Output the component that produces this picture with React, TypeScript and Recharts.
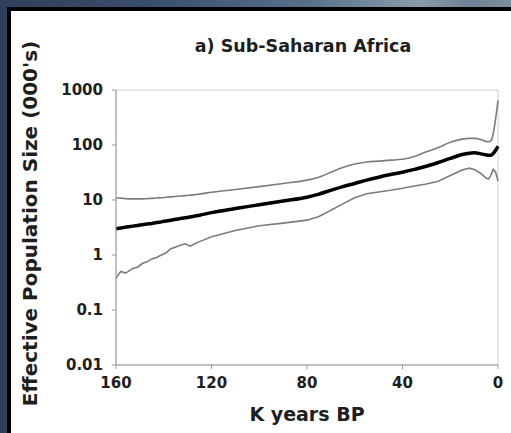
import { LineChart, Line, XAxis, YAxis, ReferenceArea, Label } from "recharts";

// thousands of years before present (shared x grid)
const kyr = [
  160, 158, 156, 155, 153, 151, 149, 147, 145, 143, 141, 139, 137, 135, 133, 131, 129, 127, 125, 120,
  110, 100, 90, 80, 75, 70, 65, 60, 55, 50, 45, 40, 35, 30, 25, 20, 15, 12, 10, 7, 5, 4, 3, 2, 1, 0,
];

// effective population size (000's): median estimate and bounds
const median = [
  3.0, 3.1, 3.2, 3.25, 3.35, 3.45, 3.55, 3.65, 3.75, 3.9, 4.0, 4.15, 4.3, 4.45, 4.6, 4.75, 4.9, 5.1, 5.3, 5.9,
  7.0, 8.2, 9.6, 11.2, 12.8, 15, 17.5, 20, 23, 26, 29, 32, 36, 41, 48, 57, 67, 71, 72, 69, 66, 65, 65, 70, 80, 95,
];
const upper = [
  11, 10.8, 10.6, 10.5, 10.5, 10.5, 10.5, 10.6, 10.7, 10.9, 11, 11.2, 11.4, 11.6, 11.8, 12, 12.2, 12.5, 12.8, 13.8,
  15.5, 17.5, 20, 23, 26, 32, 39, 45, 49, 51, 53, 55, 62, 75, 90, 112, 128, 132, 132, 125, 116, 115, 118, 160, 300, 650,
];
const lower = [
  0.38, 0.5, 0.47, 0.5, 0.57, 0.6, 0.7, 0.75, 0.85, 0.9, 1.0, 1.1, 1.3, 1.4, 1.5, 1.6, 1.45, 1.6, 1.75, 2.15,
  2.8, 3.4, 3.8, 4.3, 5.0, 6.5, 8.5, 11, 13, 14, 15, 16.3, 18, 19.5, 22, 28, 35, 38, 36, 30, 25, 24, 28, 36, 32, 22,
];

const xTicks = [160, 120, 80, 40, 0];
const yTicks = [0.01, 0.1, 1, 10, 100, 1000];

const data = kyr.map((k, i) => ({ k, median: median[i], upper: upper[i], lower: lower[i] }));

const FONT = "'DejaVu Sans', Verdana, sans-serif";
const tickStyle = { fontSize: 15, fontWeight: 700, fill: "#1e1e1e", fontFamily: FONT };

export default function App() {
  return (
    <div
      style={{
        position: "fixed",
        left: 0,
        top: 0,
        width: 511,
        height: 433,
        overflow: "hidden",
        backgroundColor: "#2d3f5b",
        backgroundImage:
          "linear-gradient(90deg, #2e405c 0%, #3a4f6c 30%, #56708a 60%, #8a9ca9 82%, #6d8295 92%, #7d8f9e 100%)",
        backgroundSize: "100% 8px",
        backgroundRepeat: "no-repeat",
      }}
    >
      <div
        style={{
          position: "absolute",
          left: 7,
          top: 7,
          right: 0,
          bottom: 0,
          background: "#fff",
          borderTop: "4px solid #000",
          borderLeft: "4px solid #000",
        }}
      />
      <div
        style={{
          position: "absolute",
          left: 0,
          width: 606,
          top: 36,
          textAlign: "center",
          fontFamily: FONT,
          fontWeight: 700,
          fontSize: 17.5,
          color: "#1e1e1e",
        }}
      >
        a) Sub-Saharan Africa
      </div>
      <LineChart
        width={511}
        height={433}
        data={data}
        margin={{ top: 90, right: 13, bottom: 0, left: 0 }}
        style={{ position: "absolute", left: 0, top: 0 }}
      >
        <ReferenceArea x1={160} x2={0} y1={0.01} y2={1000} fill="none" stroke="#cfcfcf" strokeWidth={1} />
        <XAxis
          dataKey="k"
          type="number"
          domain={[0, 160]}
          ticks={xTicks}
          reversed
          height={68}
          stroke="#9a9a9a"
          tickSize={4}
          tickMargin={8}
          tick={tickStyle}
        >
          <Label
            value="K years BP"
            position="insideBottom"
            offset={12}
            style={{ fontSize: 19, fontWeight: 700, fill: "#1e1e1e", fontFamily: FONT }}
          />
        </XAxis>
        <YAxis
          scale="log"
          domain={[0.01, 1000]}
          ticks={yTicks}
          width={116}
          stroke="#9a9a9a"
          tickSize={4}
          tickMargin={9}
          tick={tickStyle}
          allowDataOverflow
        >
          <Label
            value="Effective Population Size (000's)"
            angle={-90}
            position="insideLeft"
            offset={30}
            dy={-4}
            textAnchor="middle"
            style={{ fontSize: 20, fontWeight: 700, fill: "#1e1e1e", fontFamily: FONT, textAnchor: "middle" }}
          />
        </YAxis>
        <Line dataKey="upper" type="monotone" stroke="#7c7c7c" strokeWidth={1.6} dot={false} isAnimationActive={false} />
        <Line dataKey="lower" type="linear" stroke="#7c7c7c" strokeWidth={1.6} dot={false} isAnimationActive={false} />
        <Line dataKey="median" type="monotone" stroke="#000" strokeWidth={3.5} dot={false} isAnimationActive={false} />
      </LineChart>
    </div>
  );
}
